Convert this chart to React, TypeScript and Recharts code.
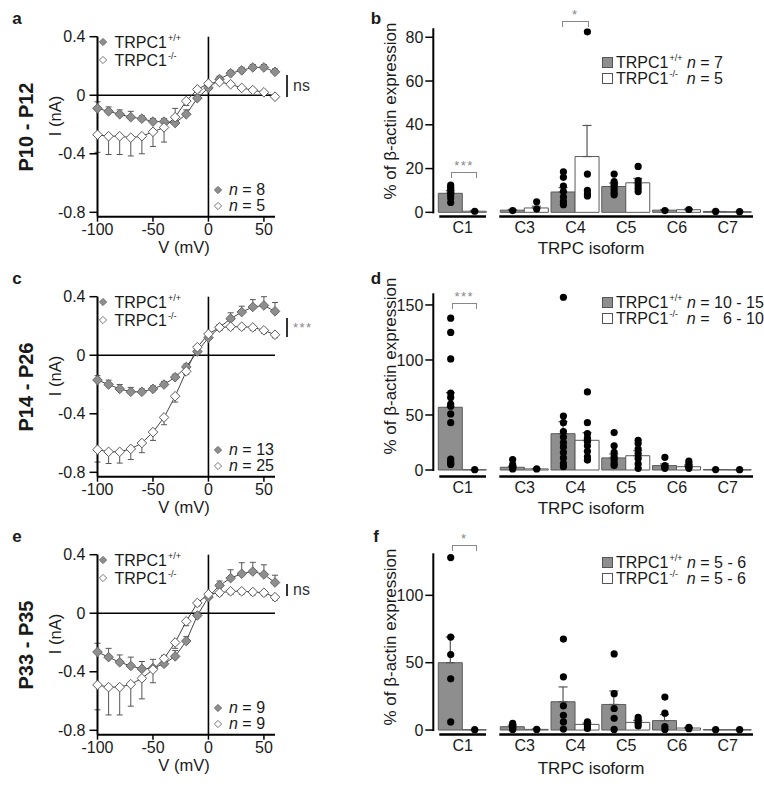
import React from 'react';
import { LineChart, Line, XAxis, YAxis, ReferenceLine, ErrorBar, ComposedChart, Bar, Scatter } from 'recharts';

const FONT = '"Liberation Sans", Arial, Helvetica, sans-serif';

// ---------------- I-V data ----------------
const voltages = [-100, -90, -80, -70, -60, -50, -40, -30, -20, -10, 0, 10, 20, 30, 40, 50, 60];
const ivXTicks = [-100, -50, 0, 50];
const ivYTicks = [-0.8, -0.4, 0, 0.4];

const wtA = [-0.09, -0.11, -0.13, -0.15, -0.16, -0.18, -0.18, -0.19, -0.13, -0.02, 0.05, 0.11, 0.15, 0.17, 0.19, 0.19, 0.16];
const koA = [-0.27, -0.28, -0.28, -0.29, -0.28, -0.25, -0.22, -0.15, -0.04, 0.04, 0.08, 0.09, 0.075, 0.05, 0.035, 0.02, -0.01];
const wtErrA = [0.045, 0.03, 0.03, 0.04, 0.02, 0.02, 0.02, 0.1, 0.03, 0.02, 0.02, 0.02, 0.02, 0.02, 0.02, 0.02, 0.02];
const koErrA = [0.12, 0.125, 0.125, 0.125, 0.12, 0.1, 0.1, 0.04, 0.03, 0.02, 0.02, 0.01, 0.01, 0.01, 0.01, 0.01, 0.01];

const wtC = [-0.17, -0.2, -0.23, -0.25, -0.25, -0.23, -0.2, -0.15, -0.08, 0.025, 0.12, 0.19, 0.25, 0.295, 0.33, 0.34, 0.3];
const koC = [-0.645, -0.66, -0.66, -0.64, -0.6, -0.525, -0.425, -0.28, -0.11, 0.055, 0.145, 0.19, 0.195, 0.195, 0.19, 0.17, 0.14];
const wtErrC = [0.03, 0.03, 0.03, 0.03, 0.02, 0.02, 0.02, 0.02, 0.02, 0.02, 0.02, 0.02, 0.04, 0.04, 0.05, 0.06, 0.06];
const koErrC = [0.085, 0.08, 0.077, 0.073, 0.066, 0.057, 0.05, 0.04, 0.02, 0.02, 0.02, 0.02, 0.02, 0.02, 0.02, 0.02, 0.02];

const wtE = [-0.265, -0.3, -0.335, -0.36, -0.38, -0.375, -0.345, -0.295, -0.19, -0.015, 0.11, 0.19, 0.24, 0.27, 0.285, 0.265, 0.21];
const koE = [-0.49, -0.505, -0.505, -0.485, -0.445, -0.385, -0.31, -0.2, -0.055, 0.07, 0.13, 0.14, 0.15, 0.15, 0.145, 0.14, 0.11];
const wtErrE = [0.06, 0.06, 0.05, 0.06, 0.05, 0.06, 0.057, 0.04, 0.03, 0.02, 0.02, 0.03, 0.057, 0.075, 0.063, 0.066, 0.05];
const koErrE = [0.17, 0.19, 0.19, 0.15, 0.14, 0.09, 0.05, 0.04, 0.03, 0.02, 0.02, 0.02, 0.02, 0.02, 0.02, 0.02, 0.02];

// ---------------- qPCR data (order: C1, C3, C4, C5, C6, C7) ----------------
const leftCats = ['C1'];
const rightCats = ['C3', 'C4', 'C5', 'C6', 'C7'];

const wtMeanB = [8.7, 1.0, 9.3, 11.8, 1.0, 0.4];
const wtSemB = [1.2, 0.3, 2.0, 1.6, 0.2, 0.1];
const koMeanB = [0.5, 2.0, 25.5, 13.5, 1.2, 0.3];
const koSemB = [0.1, 0.8, 14.2, 2.0, 0.3, 0.1];
const wtDotsB = [[12.5, 11.5, 10.5, 9, 8, 6.5, 4.5], [0.8], [18.5, 16, 12, 9.5, 7, 5, 3.5], [17.5, 14, 13, 12, 10.5, 9, 8], [0.8], [0.4]];
const koDotsB = [[0.5], [4.8, 1.5], [82.5, 17.5, 10, 8.5, 7.5], [21, 14.5, 12.5, 11, 9.5], [1.3], [0.3]];
const yTicksB = [0, 20, 40, 60, 80];

const wtMeanD = [57, 2.5, 33, 11, 4, 0.4];
const wtSemD = [13.3, 1, 11, 3.5, 1.5, 0.1];
const koMeanD = [0.3, 1, 27, 13, 3, 0.3];
const koSemD = [0.1, 0.3, 7, 4.5, 1.5, 0.1];
const wtDotsD = [[138, 125, 101, 70, 66, 60, 58, 51, 43, 10, 8, 6, 5], [9.5, 5, 3, 1.5, 1], [157, 49, 43, 35, 30, 25, 21, 16, 11, 6, 3], [34, 22, 16, 12, 9, 6, 4], [11.5, 4, 2.5, 1.5], [0.4]];
const koDotsD = [[0.3], [1], [71, 43, 33, 29, 26, 22, 17, 12, 9], [27, 24, 19, 15, 10.5, 5.5, 1.5], [8, 5.5, 3, 1.5], [0.3]];
const yTicksD = [0, 50, 100, 150];

const wtMeanF = [50, 2.5, 21, 19, 7, 0.3];
const wtSemF = [19, 1.2, 11, 10, 4.5, 0.1];
const koMeanF = [0.3, 0.5, 4.2, 5.7, 1.5, 0.3];
const koSemF = [0.1, 0.2, 1, 1.5, 0.5, 0.1];
const wtDotsF = [[128, 69, 56, 38, 6], [5, 3.5, 2, 1, 0.5], [67.5, 39.5, 18, 11, 6, 0.7], [56.5, 27, 16, 8.7, 0.5], [24.5, 12.5, 2.5, 0.5], [0.3]];
const koDotsF = [[0.3], [0.5], [6, 4.5, 3, 1.2], [9.4, 7.4, 5, 3], [1, 2], [0.3]];
const yTicksF = [0, 50, 100];

// ---------------- styling ----------------
const WT_FILL = '#8e8e8e';
const WT_STROKE = '#5a5a5a';
const KO_STROKE = '#5a5a5a';
const TEXT = '#1a1a1a';
const tickStyle = { fontSize: 16, fill: TEXT, fontFamily: FONT };

type TxtProps = { x: number; y: number; children: React.ReactNode; size?: number; weight?: number; color?: string; anchor?: 'start' | 'middle' | 'end'; rotate?: number; spacing?: number };
const Txt = ({ x, y, children, size = 16, weight = 400, color = TEXT, anchor = 'start', rotate = 0, spacing = 0 }: TxtProps) => (
  <div
    style={{
      position: 'absolute', left: x, top: y,
      transform: `translate(${anchor === 'middle' ? '-50%' : anchor === 'end' ? '-100%' : '0'}, -50%) rotate(${rotate}deg)`,
      fontSize: size, fontWeight: weight, color, fontFamily: FONT, whiteSpace: 'pre', lineHeight: 1, letterSpacing: spacing,
    }}
  >
    {children}
  </div>
);

const Sup = ({ children }: { children: React.ReactNode }) => (
  <span style={{ fontSize: 9, verticalAlign: 7, marginLeft: 1 }}>{children}</span>
);

const LegendDiamond = ({ x, y, filled }: { x: number; y: number; filled: boolean }) => (
  <svg style={{ position: 'absolute', left: x - 5, top: y - 5 }} width={10} height={10}>
    <path d="M5,1.4 L8.6,5 L5,8.6 L1.4,5 Z" fill={filled ? WT_FILL : '#fff'} stroke={filled ? '#6a6a6a' : '#777'} strokeWidth={1} />
  </svg>
);

const LegendSquare = ({ x, y, filled }: { x: number; y: number; filled: boolean }) => (
  <div style={{ position: 'absolute', left: x - 5, top: y - 5, width: 9, height: 9, background: filled ? WT_FILL : '#fff', border: '1px solid #555' }} />
);

const diamondDot = (fill: string, stroke: string, tag: string) => (p: any) => {
  const { cx, cy } = p;
  if (cx == null || cy == null) return <g key={`${tag}${p.index}`} />;
  const r = 4.8;
  return (
    <path key={`${tag}${p.index}`} d={`M${cx},${cy - r}L${cx + r},${cy}L${cx},${cy + r}L${cx - r},${cy}Z`} fill={fill} stroke={stroke} strokeWidth={1} />
  );
};

// ---------------- I-V panel ----------------
type IVProps = {
  top: number; wt: number[]; ko: number[]; wtErr: number[]; koErr: number[];
  nWT: string; nKO: string; sig: string; sigGray: boolean; sigTop: number; sigBottom: number;
  letter: string; rowLabel: string;
};

function IVPanel({ top, wt, ko, wtErr, koErr, nWT, nKO, sig, sigGray, sigTop, sigBottom, letter, rowLabel }: IVProps) {
  const data = voltages.map((v, i) => ({ v, wt: wt[i], ko: ko[i], wtErr: [0, wtErr[i]], koErr: [koErr[i], 0] }));
  return (
    <>
      <div style={{ position: 'absolute', left: 0, top, width: 380, height: 260 }}>
        <LineChart width={380} height={260} data={data} margin={{ top: 36.7, right: 105, bottom: 13.3, left: 37.5 }}>
          <XAxis
            type="number" dataKey="v" domain={[-100, 60]} ticks={ivXTicks} height={30}
            axisLine={{ stroke: '#000', strokeWidth: 2 }} tickLine={{ stroke: '#000', strokeWidth: 1.5 }}
            tickSize={5} tickMargin={2} tick={tickStyle}
          />
          <YAxis
            type="number" domain={[-0.83, 0.4]} ticks={ivYTicks} width={60} allowDataOverflow
            axisLine={{ stroke: '#000', strokeWidth: 2 }} tickLine={{ stroke: '#000', strokeWidth: 1.5 }}
            tickSize={8} tickMargin={4} tick={tickStyle}
          />
          <ReferenceLine y={0} stroke="#000" strokeWidth={1.3} />
          <ReferenceLine x={0} stroke="#000" strokeWidth={1.6} />
          <Line dataKey="wt" stroke="#444" strokeWidth={1} isAnimationActive={false} dot={diamondDot(WT_FILL, '#666', 'w')}>
            <ErrorBar dataKey="wtErr" width={3} stroke="#555" strokeWidth={1} direction="y" />
          </Line>
          <Line dataKey="ko" stroke="#444" strokeWidth={1} isAnimationActive={false} dot={diamondDot('#fff', KO_STROKE, 'k')}>
            <ErrorBar dataKey="koErr" width={3} stroke="#555" strokeWidth={1} direction="y" />
          </Line>
        </LineChart>
      </div>
      <Txt x={17} y={top + 18} size={17} weight={700} anchor="middle">{letter}</Txt>
      <Txt x={26} y={top + 127} size={20} weight={700} anchor="middle" rotate={-90}>{rowLabel}</Txt>
      <Txt x={55} y={top + 116} size={16.5} anchor="middle" rotate={-90}>I (nA)</Txt>
      <Txt x={184} y={top + 247} size={16.5} anchor="middle">V (mV)</Txt>
      <LegendDiamond x={103.3} y={top + 42} filled />
      <Txt x={114.5} y={top + 42} size={16}>TRPC1<Sup>+/+</Sup></Txt>
      <LegendDiamond x={103.3} y={top + 60} filled={false} />
      <Txt x={114.5} y={top + 60} size={16}>TRPC1<Sup>-/-</Sup></Txt>
      <LegendDiamond x={217.5} y={top + 189.5} filled />
      <Txt x={229} y={top + 189.5} size={16}><i>n</i> = {nWT}</Txt>
      <LegendDiamond x={217.5} y={top + 206} filled={false} />
      <Txt x={229} y={top + 206} size={16}><i>n</i> = {nKO}</Txt>
      <div style={{ position: 'absolute', left: 286, top: top + sigTop, width: 1.6, height: sigBottom - sigTop, background: '#333' }} />
      <Txt x={293} y={top + (sigTop + sigBottom) / 2} size={sigGray ? 13 : 16} color={sigGray ? '#888' : '#333'} spacing={sigGray ? 1.5 : 0}>{sig}</Txt>
    </>
  );
}

// ---------------- Bar panel ----------------
type BarProps = {
  top: number; wtMean: number[]; wtSem: number[]; koMean: number[]; koSem: number[];
  wtDots: number[][]; koDots: number[][]; domain: [number, number]; ticks: number[]; plotTop: number;
  n1: string; n2: string; legendY: number; letter: string; titleY: number; isoY: number;
  brackets: { x1: number; x2: number; y: number; label: string }[];
};

const buildBars = (cats: string[], off: number, wm: number[], ws: number[], km: number[], ks: number[]) =>
  cats.map((c, i) => ({ cat: c, wt: wm[i + off], ko: km[i + off], wtErr: [0, ws[i + off]], koErr: [0, ks[i + off]] }));
const buildDots = (cats: string[], off: number, dots: number[][]) =>
  cats.flatMap((c, i) => dots[i + off].map((v) => ({ cat: c, v })));

const dotShape = (dx: number) => (p: any) => (
  <circle cx={p.cx + dx} cy={p.cy} r={3.6} fill="#000" />
);

function BarPanel(props: BarProps) {
  const { top, wtMean, wtSem, koMean, koSem, wtDots, koDots, domain, ticks, plotTop, n1, n2, legendY, letter, titleY, isoY, brackets } = props;
  const plotBottom = 216.5;
  const xAxisH = 30;
  const mb = 260 - plotBottom - xAxisH;
  const leftData = buildBars(leftCats, 0, wtMean, wtSem, koMean, koSem);
  const rightData = buildBars(rightCats, 1, wtMean, wtSem, koMean, koSem);
  const zeroPx = (domain[1] / (domain[1] - domain[0])) * (plotBottom - plotTop);
  const xAxisCommon = {
    dataKey: 'cat', type: 'category' as const, allowDuplicatedCategory: false, tickLine: false,
    tickSize: 0, tickMargin: 5, height: xAxisH, tick: { ...tickStyle, fontSize: 16 },
  };
  const bars = (
    [
      <Bar key="wt" dataKey="wt" fill={WT_FILL} stroke={WT_STROKE} strokeWidth={1} isAnimationActive={false}>
        <ErrorBar dataKey="wtErr" width={4.5} stroke="#555" strokeWidth={1.2} direction="y" />
      </Bar>,
      <Bar key="ko" dataKey="ko" fill="#fff" stroke={KO_STROKE} strokeWidth={1} isAnimationActive={false}>
        <ErrorBar dataKey="koErr" width={4.5} stroke="#555" strokeWidth={1.2} direction="y" />
      </Bar>,
    ]
  );
  return (
    <>
      <div style={{ position: 'absolute', left: 380, top, width: 120, height: 260 }}>
        <ComposedChart width={120} height={260} data={leftData} barGap={0} barSize={24}
          margin={{ top: plotTop, right: 7.9, bottom: mb, left: 3.3 }}>
          <XAxis {...xAxisCommon} axisLine={{ stroke: '#000', strokeWidth: 2.5, strokeDasharray: '0 6 46.7 200' }} />
          <YAxis type="number" domain={domain} ticks={ticks} width={50} allowDataOverflow
            axisLine={{ stroke: '#000', strokeWidth: 2, strokeDasharray: `${zeroPx + 1} 400` }}
            tickLine={{ stroke: '#000', strokeWidth: 1.5 }} tickSize={8} tickMargin={2} tick={{ ...tickStyle, fontSize: 16 }} />
          {bars}
          <Scatter data={buildDots(leftCats, 0, wtDots)} dataKey="v" shape={dotShape(-12)} isAnimationActive={false} />
          <Scatter data={buildDots(leftCats, 0, koDots)} dataKey="v" shape={dotShape(12)} isAnimationActive={false} />
        </ComposedChart>
      </div>
      <div style={{ position: 'absolute', left: 490, top, width: 270, height: 260 }}>
        <ComposedChart width={270} height={260} data={rightData} barGap={0} barSize={24}
          margin={{ top: plotTop, right: 7, bottom: mb, left: 9.3 }}>
          <XAxis {...xAxisCommon} axisLine={{ stroke: '#000', strokeWidth: 2.5 }} />
          <YAxis type="number" domain={domain} hide allowDataOverflow />
          {bars}
          <Scatter data={buildDots(rightCats, 1, wtDots)} dataKey="v" shape={dotShape(-12)} isAnimationActive={false} />
          <Scatter data={buildDots(rightCats, 1, koDots)} dataKey="v" shape={dotShape(12)} isAnimationActive={false} />
        </ComposedChart>
      </div>
      <Txt x={376} y={top + 18} size={17} weight={700} anchor="middle">{letter}</Txt>
      <Txt x={390} y={top + titleY} size={17} anchor="middle" rotate={-90}>% of β-actin expression</Txt>
      <Txt x={591} y={top + isoY} size={17} anchor="middle">TRPC isoform</Txt>
      <LegendSquare x={606.7} y={top + legendY} filled />
      <Txt x={616} y={top + legendY} size={16}>TRPC1<Sup>+/+</Sup> <i>n</i> = {n1}</Txt>
      <LegendSquare x={606.7} y={top + legendY + 16.5} filled={false} />
      <Txt x={616} y={top + legendY + 16.5} size={16}>TRPC1<Sup>-/-</Sup>  <i>n</i> = {n2}</Txt>
      {brackets.map((b, i) => (
        <React.Fragment key={i}>
          <div style={{ position: 'absolute', left: b.x1, top: top + b.y, width: b.x2 - b.x1, height: 5, borderTop: '1.2px solid #888', borderLeft: '1.2px solid #888', borderRight: '1.2px solid #888' }} />
          <Txt x={(b.x1 + b.x2) / 2 + 1} y={top + b.y - 7} size={13} color="#888" anchor="middle" spacing={1.5}>{b.label}</Txt>
        </React.Fragment>
      ))}
    </>
  );
}

export default function App() {
  return (
    <div style={{ position: 'absolute', left: 0, top: 0, width: 764, height: 787, background: '#fff', overflow: 'hidden', fontFamily: FONT }}>
      <IVPanel top={0} wt={wtA} ko={koA} wtErr={wtErrA} koErr={koErrA} nWT="8" nKO="5" sig="ns" sigGray={false} sigTop={75} sigBottom={96.7} letter="a" rowLabel="P10 - P12" />
      <IVPanel top={260} wt={wtC} ko={koC} wtErr={wtErrC} koErr={koErrC} nWT="13" nKO="25" sig="***" sigGray sigTop={58} sigBottom={76.7} letter="c" rowLabel="P14 - P26" />
      <IVPanel top={518} wt={wtE} ko={koE} wtErr={wtErrE} koErr={koErrE} nWT="9" nKO="9" sig="ns" sigGray={false} sigTop={66} sigBottom={78} letter="e" rowLabel="P33 - P35" />
      <BarPanel top={0} wtMean={wtMeanB} wtSem={wtSemB} koMean={koMeanB} koSem={koSemB} wtDots={wtDotsB} koDots={koDotsB}
        domain={[-1.9, 84.1]} ticks={yTicksB} plotTop={28.3} n1="7" n2="5" legendY={61.7} letter="b" titleY={111} isoY={248}
        brackets={[{ x1: 451, x2: 475, y: 171.7, label: '***' }, { x1: 561.7, x2: 586.7, y: 20.7, label: '*' }]} />
      <BarPanel top={260} wtMean={wtMeanD} wtSem={wtSemD} koMean={koMeanD} koSem={koSemD} wtDots={wtDotsD} koDots={koDotsD}
        domain={[-5.9, 160.6]} ticks={yTicksD} plotTop={33.3} n1="10 - 15" n2="  6 - 10" legendY={41.7} letter="d" titleY={106} isoY={248.3}
        brackets={[{ x1: 451.7, x2: 475, y: 42.5, label: '***' }]} />
      <BarPanel top={518} wtMean={wtMeanF} wtSem={wtSemF} koMean={koMeanF} koSem={koSemF} wtDots={wtDotsF} koDots={koDotsF}
        domain={[-3.3, 131.2]} ticks={yTicksF} plotTop={35.3} n1="5 - 6" n2="5 - 6" legendY={43.7} letter="f" titleY={119} isoY={250.3}
        brackets={[{ x1: 451.7, x2: 475, y: 27, label: '*' }]} />
    </div>
  );
}
